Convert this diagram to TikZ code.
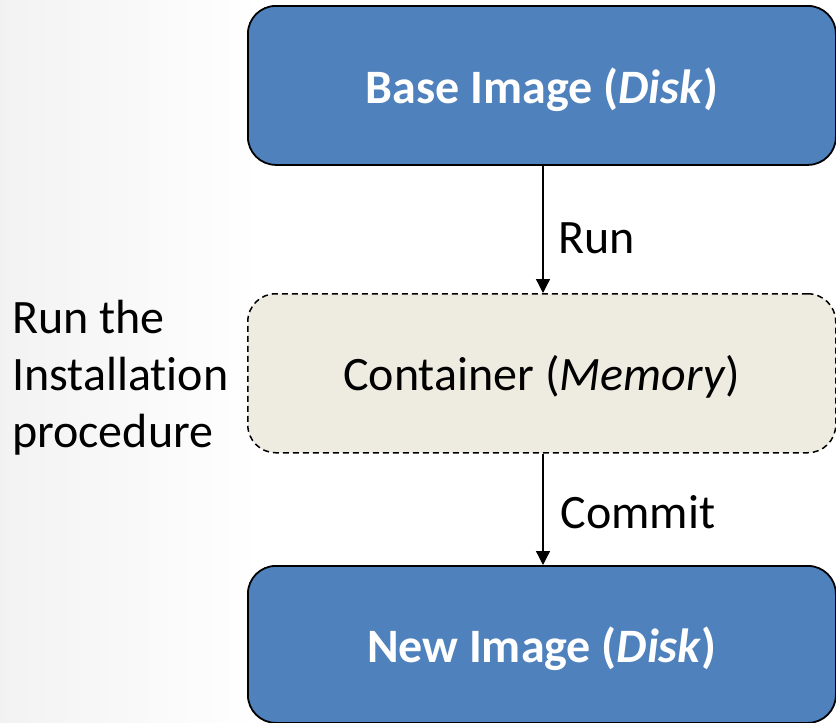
\documentclass[tikz,border=0pt]{standalone}
\usepackage{fontspec}
\setmainfont{Carlito}[Ligatures=CommonOff]
\usetikzlibrary{arrows.meta}
\definecolor{diskblue}{HTML}{4F81BD}
\definecolor{memtan}{HTML}{EEECE1}
\begin{document}
\begin{tikzpicture}[x=1pt,y=-1pt,
  box/.style={rounded corners=28pt, minimum width=588pt, minimum height=159pt, anchor=north west, inner sep=0pt, text depth=0pt},
  diskbox/.style={box, fill=diskblue, draw=black, line width=1.8pt, text=white, font=\fontsize{48}{57}\selectfont\bfseries},
  membox/.style={box, fill=memtan, draw=black, line width=1.5pt, dash pattern=on 6pt off 4pt, font=\fontsize{48}{57}\selectfont},
  flow/.style={draw=black, line width=1.3pt, -{Triangle[length=14pt,width=14pt]}},
  lbl/.style={font=\fontsize{48}{57}\selectfont, anchor=west, inner sep=0pt}
]
% page area and soft grey wash on the left
\useasboundingbox (0,0) rectangle (836,723);
\fill[white] (0,0) rectangle (836,723);
\shade[left color=black!5, right color=white] (0,0) rectangle (260,723);

\node[diskbox] (base) at (247,5) {Base Image (\textit{Disk})};
\node[membox] (cont) at (247,293) {Container (\textit{Memory})};
\node[diskbox, minimum height=157pt] (new) at (247,565) {New Image (\textit{Disk})};

\draw[flow] (base.south -| 543,0) -- (cont.north -| 543,0) node[pos=0.57, lbl, xshift=15pt] (run) {Run};
\draw[flow] (cont.south -| 543,0) -- (new.north -| 543,0) node[pos=0.53, lbl, xshift=17pt] (commit) {Commit};

\node[font=\fontsize{48}{57}\selectfont, align=left, anchor=west, inner sep=0pt] (note) at (12,378) {Run the\\Installation\\procedure};
\end{tikzpicture}
\end{document}
